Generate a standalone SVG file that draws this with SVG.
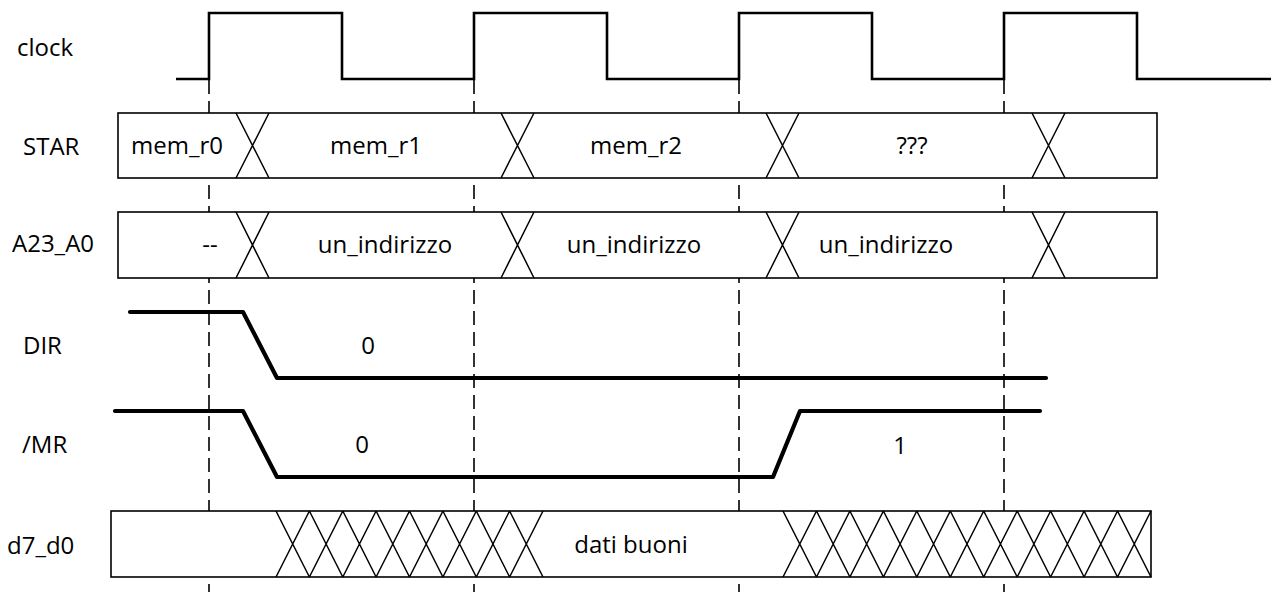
<svg xmlns="http://www.w3.org/2000/svg" width="1274" height="592" viewBox="0 0 1274 592">
<style>
text{font-family:"Open Sans","Noto Sans","Liberation Sans",sans-serif;font-size:24px;fill:#000}
.c{text-anchor:middle}
.box{fill:#fff;stroke:#000;stroke-width:1.6}
.x{fill:none;stroke:#000;stroke-width:1.5}
.clk{fill:none;stroke:#000;stroke-width:2.6}
.sig{fill:none;stroke:#000;stroke-width:4.2;stroke-linecap:round;stroke-linejoin:round}
.dash{stroke:#000;stroke-width:1.6;stroke-dasharray:14 7}
</style>
<rect width="1274" height="592" fill="#fff"/>
<g id="guides">
<line class="dash" x1="209" y1="80" x2="209" y2="592"/>
<line class="dash" x1="474" y1="80" x2="474" y2="592"/>
<line class="dash" x1="739" y1="80" x2="739" y2="592"/>
<line class="dash" x1="1004" y1="80" x2="1004" y2="592"/>
</g>
<g id="clock">
<text x="17" y="56">clock</text>
<polyline class="clk" points="176,79 209,79 209,13 342,13 342,79 474,79 474,13 607,13 607,79 739,79 739,13 872,13 872,79 1004,79 1004,13 1137,13 1137,79 1271,79"/>
</g>
<g id="star">
<text x="23" y="155">STAR</text>
<rect class="box" x="118" y="113" width="1039" height="65"/>
<path class="x" d="M236,113 L269,178 M236,178 L269,113 M501,113 L534,178 M501,178 L534,113 M766,113 L799,178 M766,178 L799,113 M1032,113 L1065,178 M1032,178 L1065,113"/>
<text class="c" x="177" y="154">mem_r0</text>
<text class="c" x="376" y="154">mem_r1</text>
<text class="c" x="636" y="154">mem_r2</text>
<text class="c" x="912" y="154">???</text>
</g>
<g id="a23_a0">
<text x="12" y="252">A23_A0</text>
<rect class="box" x="118" y="212" width="1039" height="66"/>
<path class="x" d="M236,212 L269,278 M236,278 L269,212 M501,212 L534,278 M501,278 L534,212 M766,212 L799,278 M766,278 L799,212 M1032,212 L1065,278 M1032,278 L1065,212"/>
<text class="c" x="210" y="253">--</text>
<text class="c" x="385" y="253">un_indirizzo</text>
<text class="c" x="634" y="253">un_indirizzo</text>
<text class="c" x="886" y="253">un_indirizzo</text>
</g>
<g id="dir">
<text x="23" y="354">DIR</text>
<polyline class="sig" points="130,312 243,312 277,378 1046,378"/>
<text class="c" x="368" y="354">0</text>
</g>
<g id="mr">
<text x="22" y="453">/MR</text>
<polyline class="sig" points="115,411 243,411 277,477 773,477 800,411 1040,411"/>
<text class="c" x="362" y="453">0</text>
<text class="c" x="900" y="454">1</text>
</g>
<g id="d7_d0">
<text x="7" y="554">d7_d0</text>
<rect class="box" x="111" y="511" width="1040" height="66"/>
<path class="x" d="M276,511 L309.4,577 M276,577 L309.4,511 M309.4,511 L342.8,577 M309.4,577 L342.8,511 M342.8,511 L376.1,577 M342.8,577 L376.1,511 M376.1,511 L409.5,577 M376.1,577 L409.5,511 M409.5,511 L442.9,577 M409.5,577 L442.9,511 M442.9,511 L476.3,577 M442.9,577 L476.3,511 M476.3,511 L509.6,577 M476.3,577 L509.6,511 M509.6,511 L543,577 M509.6,577 L543,511"/>
<path class="x" d="M783,511 L816.5,577 M783,577 L816.5,511 M816.5,511 L849.9,577 M816.5,577 L849.9,511 M849.9,511 L883.4,577 M849.9,577 L883.4,511 M883.4,511 L916.8,577 M883.4,577 L916.8,511 M916.8,511 L950.3,577 M916.8,577 L950.3,511 M950.3,511 L983.7,577 M950.3,577 L983.7,511 M983.7,511 L1017.2,577 M983.7,577 L1017.2,511 M1017.2,511 L1050.6,577 M1017.2,577 L1050.6,511 M1050.6,511 L1084.1,577 M1050.6,577 L1084.1,511 M1084.1,511 L1117.5,577 M1084.1,577 L1117.5,511 M1117.5,511 L1151,577 M1117.5,577 L1151,511"/>
<text class="c" x="631" y="553">dati buoni</text>
</g>
</svg>
